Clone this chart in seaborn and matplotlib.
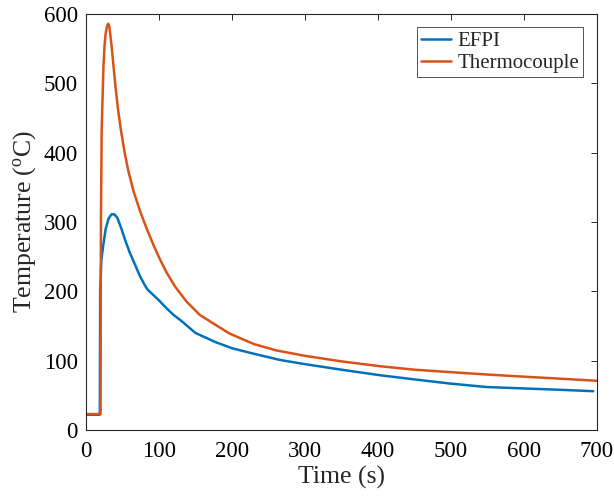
import numpy as np
import pandas as pd
import seaborn as sns
import matplotlib
matplotlib.use("Agg")
import matplotlib.pyplot as plt

# values
efpi_t = [0, 19, 19.5, 21, 23.5, 27, 31, 35, 39, 43, 48, 54, 60, 67, 74, 80, 84, 90,
          100, 110, 120, 130, 150, 177, 200, 230, 266, 300, 350, 403, 450, 499,
          549, 599, 650, 695]
efpi_temp = [22, 22, 200, 245, 265, 290, 305, 311, 311, 306, 292, 273, 256, 239, 222,
             210, 203, 197, 187, 176, 166, 158, 140, 127, 118, 110, 101, 95, 87, 79,
             73, 67, 62, 60, 58, 56]

tc_t = [0, 20, 20.5, 21.5, 22.5, 24, 25.5, 27, 29, 30.5, 32, 35, 38, 41, 44, 48, 53,
        58, 65, 74, 83, 92, 101, 110, 122, 138, 156, 177, 197, 230, 260, 300, 350,
        403, 450, 499, 550, 599, 650, 700]
tc_temp = [23, 23, 300, 430, 470, 525, 555, 572, 583, 586, 582, 555, 522, 490, 462,
           432, 400, 374, 345, 316, 291, 268, 247, 228, 207, 185, 166, 152, 139, 124,
           115, 107, 99, 92, 87, 83.5, 80, 77, 74, 71]

df = pd.concat([
    pd.DataFrame({"t": efpi_t, "T": efpi_temp, "s": "EFPI"}),
    pd.DataFrame({"t": tc_t, "T": tc_temp, "s": "Thermocouple"}),
])

sns.set_style("white")
plt.rcParams["font.family"] = ["Liberation Serif", "DejaVu Serif"]
plt.rcParams["mathtext.fontset"] = "custom"
plt.rcParams["mathtext.rm"] = "Liberation Serif"
plt.rcParams["mathtext.it"] = "Liberation Serif:italic"

edge = "#262626"
fig, ax = plt.subplots(figsize=(6.14, 4.98), dpi=100)
fig.subplots_adjust(left=0.140, right=0.972, bottom=0.1365, top=0.972)

sns.lineplot(data=df, x="t", y="T", hue="s", sort=False, estimator=None,
             palette=["#0072BD", "#D95319"], linewidth=1.8, ax=ax)

ax.set_xlim(0, 700)
ax.set_ylim(0, 600)
ax.set_xticks(np.arange(0, 701, 100))
ax.set_yticks(np.arange(0, 601, 100))
ax.tick_params(direction="in", top=True, right=True, length=4, width=0.7,
               colors=edge, labelsize=16.5, labelcolor="black")
ax.tick_params(axis="x", pad=8)
ax.tick_params(axis="y", pad=6)
for sp in ax.spines.values():
    sp.set_color(edge)
    sp.set_linewidth(0.8)

ax.set_xlabel("Time (s)", fontsize=18.5, labelpad=3)
ax.set_ylabel(r"Temperature ($^{\rm o}$C)", fontsize=18.5, labelpad=4)

leg = ax.legend(loc="upper right", fontsize=15, frameon=True, fancybox=False,
                handlelength=1.45, handletextpad=0.3, borderpad=0.2,
                borderaxespad=0.65, labelspacing=0.1)
leg.get_frame().set_edgecolor(edge)
leg.get_frame().set_linewidth(0.7)

fig.savefig("out.png", dpi=100)
